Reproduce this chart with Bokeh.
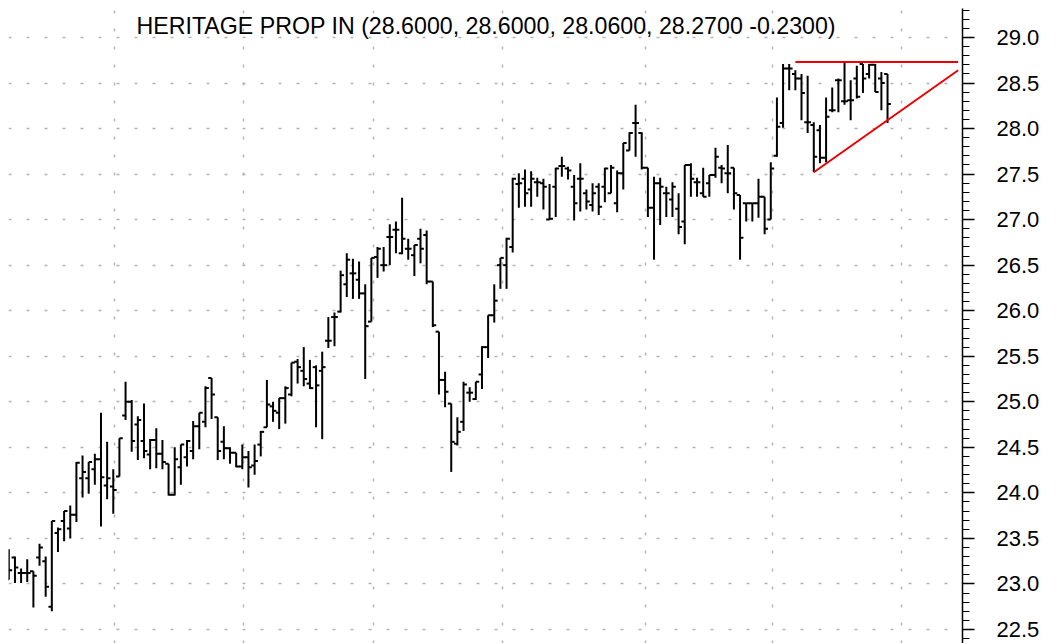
from bokeh.plotting import figure
from bokeh.models import Range1d, SingleIntervalTicker, NumeralTickFormatter, FixedTicker, Label, ColumnDataSource
from bokeh.embed import file_html
from bokeh.resources import INLINE

# ---- data ----
opens = [
    23.05, 23.29, 23.12, 23.12, 23.14, 23.29, 23.25, 22.75, 23.56, 23.69,
    23.61, 23.76, 24.16, 24.16, 24.26, 24.37, 24.08, 24.07, 24.18, 24.85,
    25.00, 24.75, 24.57, 24.42, 24.58, 24.43, 24.32, 23.98, 24.28, 24.39,
    24.46, 24.73, 24.78, 25.26, 24.83, 24.56, 24.49, 24.44, 24.29, 24.39,
    24.30, 24.53, 24.72, 24.95, 24.88, 25.04, 25.08, 25.44, 25.34, 25.20,
    25.38, 25.34, 25.67, 25.93, 25.99, 26.29, 26.41, 26.34, 26.19, 25.88,
    26.59, 26.50, 26.81, 26.89, 26.63, 26.68, 26.61, 26.79, 26.83, 26.32,
    25.77, 25.24, 24.98, 24.54, 24.78, 25.10, 25.03, 25.30, 25.60, 25.95,
    26.50, 26.50, 26.70, 27.39, 27.45, 27.33, 27.41, 27.40, 27.00, 27.36,
    27.59, 27.56, 27.36, 27.45, 27.29, 27.16, 27.36, 27.36,
    27.29, 27.18, 27.51, 27.76, 28.06, 27.95, 27.57, 27.13, 27.40, 27.29,
    27.22, 27.12, 26.98, 27.60, 27.41, 27.29, 27.40, 27.49, 27.57, 27.51,
    27.57, 27.27, 27.18, 27.18, 27.18, 27.25, 27.00, 27.70, 28.06, 28.66,
    28.60, 28.55, 28.07, 28.04, 27.98, 27.68, 28.20, 28.53, 28.30,
    28.31, 28.55, 28.71, 28.60, 28.70, 28.55, 28.60,
]
highs = [
    23.38, 23.30, 23.17, 23.27, 23.14, 23.44, 23.30, 23.69, 23.62, 23.80,
    23.86, 24.34, 24.41, 24.34, 24.43, 24.88, 24.56, 24.26, 24.60, 25.22,
    25.02, 24.84, 24.98, 24.59, 24.71, 24.58, 24.32, 24.50, 24.53, 24.58,
    24.79, 24.88, 25.17, 25.26, 24.83, 24.73, 24.50, 24.44, 24.53, 24.46,
    24.53, 24.68, 25.24, 25.00, 25.04, 25.17, 25.43, 25.47, 25.60, 25.46,
    25.40, 25.55, 25.93, 25.98, 26.44, 26.63, 26.57, 26.54, 26.29, 26.58,
    26.70, 26.70, 26.95, 26.98, 27.24, 26.79, 26.72, 26.90, 26.88, 26.32,
    25.77, 25.33, 24.98, 24.83, 25.22, 25.16, 25.22, 25.61, 25.95, 26.29,
    26.58, 26.80, 27.46, 27.51, 27.55, 27.53, 27.46, 27.45, 27.39, 27.57,
    27.69, 27.58, 27.49, 27.62, 27.33, 27.40, 27.40, 27.57,
    27.60, 27.54, 27.84, 27.96, 28.26, 27.96, 27.57, 27.47, 27.46, 27.36,
    27.41, 27.29, 27.60, 27.62, 27.46, 27.57, 27.49, 27.79, 27.60, 27.82,
    27.57, 27.27, 27.18, 27.18, 27.45, 27.25, 27.63, 28.34, 28.71, 28.71,
    28.64, 28.60, 28.58, 28.07, 28.04, 28.34, 28.45, 28.55, 28.73,
    28.53, 28.69, 28.71, 28.71, 28.71, 28.62, 28.60,
]
lows = [
    23.05, 23.01, 23.01, 23.02, 22.74, 23.20, 22.86, 22.70, 23.35, 23.47,
    23.50, 23.68, 23.95, 23.99, 24.09, 23.63, 23.93, 23.77, 24.18, 24.80,
    24.45, 24.36, 24.38, 24.26, 24.27, 24.26, 23.97, 23.97, 24.09, 24.29,
    24.37, 24.48, 24.72, 24.81, 24.36, 24.37, 24.32, 24.28, 24.26, 24.06,
    24.20, 24.40, 24.72, 24.78, 24.70, 24.76, 25.06, 25.20, 25.17, 25.14,
    24.72, 24.59, 25.59, 25.61, 25.98, 26.15, 26.13, 26.13, 25.25, 25.88,
    26.36, 26.43, 26.50, 26.63, 26.62, 26.56, 26.38, 26.52, 26.29, 25.82,
    25.08, 24.94, 24.23, 24.52, 24.68, 25.00, 25.02, 25.14, 25.48, 25.87,
    26.24, 26.24, 26.64, 27.13, 27.14, 27.14, 27.25, 27.11, 27.00, 27.03,
    27.47, 27.44, 26.99, 27.09, 27.11, 27.09, 27.05, 27.19,
    27.29, 27.08, 27.33, 27.76, 27.69, 27.55, 27.03, 26.56, 26.94, 27.03,
    27.03, 26.84, 26.73, 27.25, 27.25, 27.25, 27.25, 27.46, 27.40, 27.29,
    27.11, 26.56, 26.98, 26.98, 27.02, 26.84, 27.00, 27.69, 28.01, 28.42,
    28.42, 28.09, 27.95, 27.52, 27.62, 27.63, 28.18, 28.18, 28.26,
    28.09, 28.33, 28.39, 28.55, 28.40, 28.20, 28.06,
]
closes = [
    23.15, 23.18, 23.12, 23.12, 23.09, 23.40, 22.97, 23.69, 23.60, 23.80,
    23.76, 24.33, 24.23, 24.34, 24.37, 24.17, 24.16, 24.03, 24.60, 25.00,
    24.57, 24.80, 24.46, 24.58, 24.43, 24.34, 23.98, 24.37, 24.53, 24.57,
    24.73, 24.88, 25.15, 25.08, 24.46, 24.49, 24.44, 24.29, 24.39, 24.28,
    24.35, 24.67, 24.97, 24.90, 25.04, 25.15, 25.43, 25.38, 25.25, 25.15,
    25.18, 25.38, 25.67, 25.93, 26.39, 26.56, 26.41, 26.19, 25.83, 26.58,
    26.68, 26.50, 26.81, 26.89, 26.79, 26.68, 26.72, 26.68, 26.32, 25.84,
    25.24, 25.11, 24.56, 24.67, 25.19, 25.10, 25.22, 25.60, 25.95, 26.11,
    26.58, 26.79, 27.45, 27.40, 27.29, 27.45, 27.41, 27.36, 27.01, 27.56,
    27.59, 27.54, 27.18, 27.45, 27.20, 27.29, 27.14, 27.56,
    27.57, 27.51, 27.84, 27.95, 28.06, 27.57, 27.13, 27.40, 27.36, 27.29,
    27.36, 26.92, 27.60, 27.45, 27.41, 27.25, 27.49, 27.69, 27.56, 27.51,
    27.29, 26.80, 27.18, 27.18, 27.25, 26.90, 27.56, 28.02, 28.66, 28.66,
    28.55, 28.39, 28.07, 27.69, 27.68, 28.13, 28.20, 28.53, 28.30,
    28.31, 28.35, 28.55, 28.70, 28.40, 28.50, 28.27,
]
symbol = "HERITAGE PROP IN"
month_breaks = [17.2, 38.2, 59.3, 80.3, 103.6, 124.3, 145.3]   # bar positions of month starts
# ascending triangle trend lines (bar index, price)
resist_x = [128.0, 154.5]
resist_y = [28.73, 28.73]
support_x = [131.0, 154.5]
support_y = [27.52, 28.64]

n = len(opens)
assert len(highs) == n and len(lows) == n and len(closes) == n
idx = list(range(n))
tick_w = 0.55
src = ColumnDataSource(dict(
    x=idx, o=opens, h=highs, l=lows, c=closes,
    xl=[i - tick_w for i in idx], xr=[i + tick_w for i in idx],
))

FONT = "Liberation Sans"
p = figure(frame_width=954, frame_height=635,
           x_range=Range1d(-0.05, 155.2), y_range=Range1d(22.346, 29.318),
           output_backend="svg", toolbar_location=None,
           x_axis_location=None, y_axis_location="right",
           min_border=0, min_border_left=8, min_border_top=8,
           outline_line_color=None, background_fill_color="white")

# grid
p.xgrid.ticker = FixedTicker(ticks=month_breaks)
for g in (p.xgrid, p.ygrid):
    g.grid_line_color = "#b4b4b4"
    g.grid_line_dash = "3 15"
    g.grid_line_width = 1.5

# right price axis
ax = p.yaxis[0]
ax.ticker = SingleIntervalTicker(interval=0.5, num_minor_ticks=5)
ax.formatter = NumeralTickFormatter(format="0.0")
ax.axis_line_color = "black"
ax.axis_line_width = 1.5
ax.major_tick_line_color = "black"
ax.major_tick_line_width = 1.5
ax.major_tick_out = 12
ax.major_tick_in = 0
ax.minor_tick_line_color = "black"
ax.minor_tick_line_width = 1.2
ax.minor_tick_out = 7
ax.minor_tick_in = 0
ax.major_label_standoff = 22
ax.major_label_text_font = FONT
ax.major_label_text_font_size = "22px"
ax.major_label_text_color = "black"

# OHLC bars
p.segment(x0="x", y0="l", x1="x", y1="h", source=src, line_color="black", line_width=2)
p.segment(x0="xl", y0="o", x1="x", y1="o", source=src, line_color="black", line_width=2)
p.segment(x0="x", y0="c", x1="xr", y1="c", source=src, line_color="black", line_width=2)

# triangle lines
p.line(resist_x, resist_y, line_color="#ee0000", line_width=2)
p.line(support_x, support_y, line_color="#ee0000", line_width=2)

# header text
chg = closes[-1] - closes[-2]
title = f"{symbol} ({opens[-1]:.4f}, {highs[-1]:.4f}, {lows[-1]:.4f}, {closes[-1]:.4f} {chg:.4f})"
p.add_layout(Label(x=77.7, y=29.13, text=title, text_align="center", text_baseline="alphabetic",
                   text_font=FONT, text_font_size="23.2px", text_color="black"))

open("out.html", "w").write(file_html(p, INLINE))
